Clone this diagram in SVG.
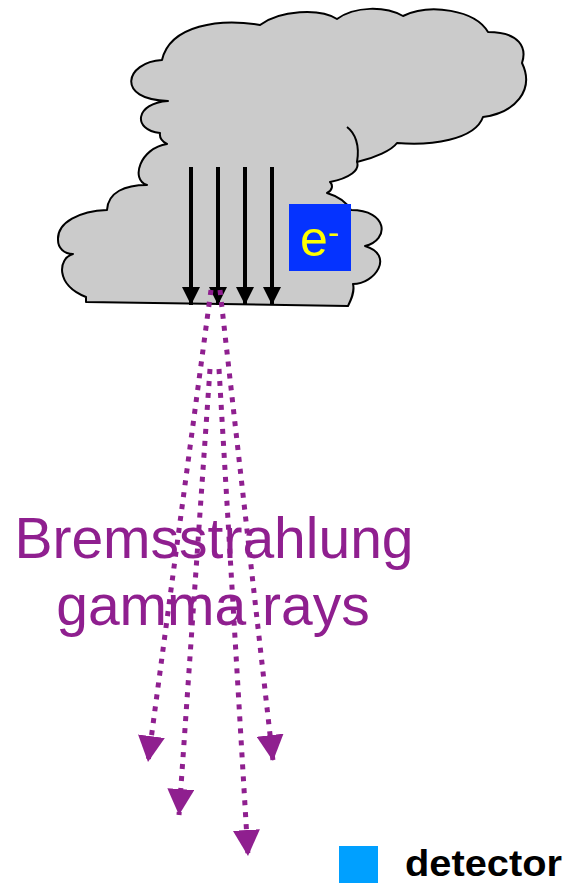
<svg xmlns="http://www.w3.org/2000/svg" width="570" height="883" viewBox="0 0 570 883">
  <style>
    .cloud { fill: #cbcbcb; stroke: #000; stroke-width: 2; stroke-linejoin: round; }
    .fold { fill: none; stroke: #000; stroke-width: 2; }
    .beam { stroke: #000; stroke-width: 4; }
    .ray { fill: none; stroke: #8f1f8f; stroke-width: 5; stroke-dasharray: 5 7; }
    .label { font-family: "Liberation Sans", Arial, sans-serif; }
  </style>
  <defs>
    <marker id="blackHead" markerUnits="userSpaceOnUse" viewBox="0 0 18 18" refX="18" refY="9" markerWidth="18" markerHeight="18" orient="auto">
      <path d="M0,0 L18,9 L0,18 z" fill="#000"/>
    </marker>
    <marker id="rayHead" markerUnits="userSpaceOnUse" viewBox="0 0 26 27" refX="26" refY="13.5" markerWidth="26" markerHeight="27" orient="auto">
      <path d="M0,0 L26,13.5 L0,27 z" fill="#8f1f8f"/>
    </marker>
  </defs>

  <g id="cloud">
    <path class="cloud" d="M86,302 L348,306
      C351,300 355,292 353,284
      C375,284 395,255 365,246
      C390,240 388,210 351,210
      C345,200 337,196 327,193
      C333,190 333,185 330,182
      C350,178 360,170 357,162
      C375,158 392,150 397,143
      C430,146 475,140 483,117
      C515,113 535,90 522,63
      C527,48 520,32 488,32
      C475,10 430,3 403,16
      C385,6 355,6 337,19
      C320,8 280,10 260,25
      C220,18 170,25 162,60
      C125,62 115,100 168,101
      C135,103 132,130 160,133
      Q159,140 167,144
      C140,148 130,180 147,185
      C125,185 108,192 107,210
      C80,211 57,222 58,240
      C58,248 64,254 73,254
      C58,258 55,285 86,297 Z"/>
    <path class="fold" d="M347,127 C355,133 360,145 357,162"/>
  </g>

  <g id="electron-beam">
    <line class="beam" x1="191" y1="167" x2="191" y2="305" marker-end="url(#blackHead)"/>
    <line class="beam" x1="218" y1="167" x2="218" y2="305" marker-end="url(#blackHead)"/>
    <line class="beam" x1="245" y1="167" x2="245" y2="305" marker-end="url(#blackHead)"/>
    <line class="beam" x1="272" y1="167" x2="272" y2="305" marker-end="url(#blackHead)"/>
  </g>

  <g id="electron-label">
    <rect x="289" y="204" width="62" height="67" fill="#0533ff"/>
    <text class="label" x="300" y="256" font-size="50" fill="#ffff00">e<tspan dy="-12" font-size="34">-</tspan></text>
  </g>

  <g id="connectors">
    <line class="ray" x1="211" y1="290" x2="148" y2="762" marker-end="url(#rayHead)"/>
    <line class="ray" x1="210" y1="369" x2="179" y2="815" marker-end="url(#rayHead)"/>
    <line class="ray" x1="219" y1="369" x2="248" y2="856" marker-end="url(#rayHead)"/>
    <line class="ray" x1="220" y1="290" x2="273" y2="761" marker-end="url(#rayHead)"/>
  </g>

  <g id="rays-label">
    <text class="label" x="214" y="558" font-size="57" fill="#8f1f8f" text-anchor="middle">Bremsstrahlung</text>
    <text class="label" x="213" y="625" font-size="57" fill="#8f1f8f" text-anchor="middle">gamma rays</text>
  </g>

  <g id="legend">
    <rect x="339" y="846" width="39" height="37" fill="#00a0ff"/>
    <text class="label" x="405" y="876" font-size="37" font-weight="bold" fill="#000" textLength="157" lengthAdjust="spacingAndGlyphs">detector</text>
  </g>
</svg>
